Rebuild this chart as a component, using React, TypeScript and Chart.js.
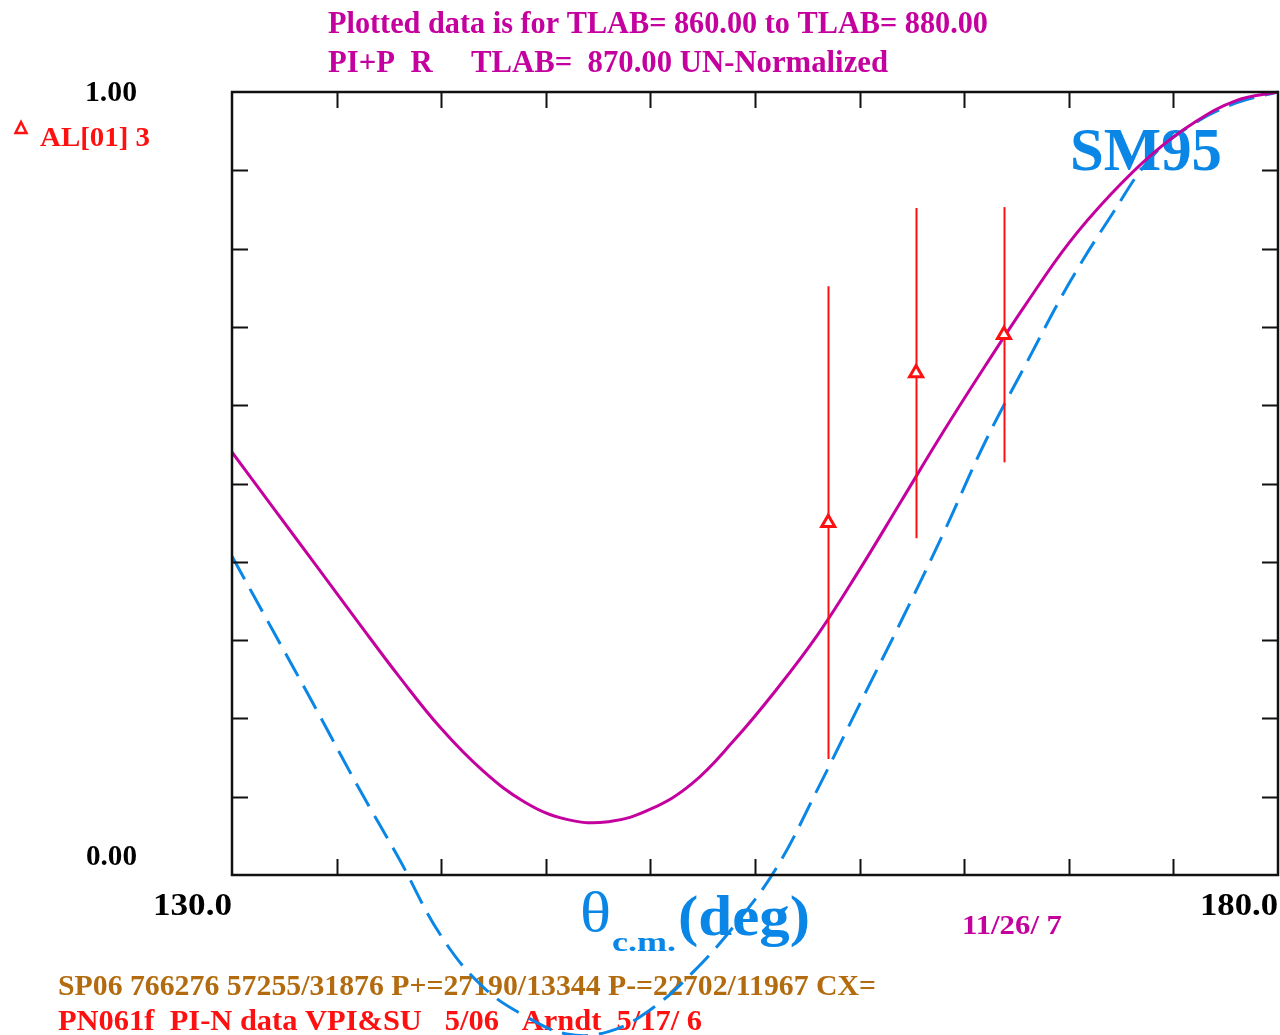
import { useEffect, useRef } from "react";
import { Chart, registerables } from "chart.js";

Chart.register(...registerables);

// Axis ticks (degrees and unnormalized value)
const angleTicks = [130, 135, 140, 145, 150, 155, 160, 165, 170, 175, 180];
const valueTicks = [0, 0.1, 0.2, 0.3, 0.4, 0.5, 0.6, 0.7, 0.8, 0.9, 1.0];
const angleLabels = ["130.0", "180.0"];
const valueLabels = ["0.00", "1.00"];

// Angles at which the two model curves are tabulated
const curveAngles = [
  130, 132, 134, 136, 138, 140, 142, 144, 146, 148, 150, 152, 154, 156, 158,
  160, 162, 164, 166, 168, 170, 172, 174, 176, 178, 180,
];
// Current fit (solid magenta)
const fitValues = [
  0.54, 0.468, 0.396, 0.324, 0.253, 0.187, 0.133, 0.093, 0.071, 0.068, 0.084,
  0.117, 0.172, 0.236, 0.307, 0.39, 0.478, 0.566, 0.65, 0.731, 0.807, 0.869,
  0.921, 0.961, 0.989, 1.0,
];
// SM95 solution (dashed blue)
const sm95Values = [
  0.407, 0.31, 0.213, 0.114, 0.02, -0.078, -0.143, -0.18, -0.203, -0.2,
  -0.172, -0.125, -0.065, 0.008, 0.11, 0.218, 0.325, 0.436, 0.553, 0.655,
  0.755, 0.841, 0.918, 0.96, 0.986, 1.0,
];

// Measured points AL[01] 3
const dataAngles = [158.5, 162.7, 166.9];
const dataValues = [0.45, 0.641, 0.69];
const dataErrors = [0.302, 0.211, 0.163];

// Annotation text
const titleLine1 = "Plotted data is for TLAB= 860.00 to TLAB= 880.00";
const titleLine2 = "PI+P  R     TLAB=  870.00 UN-Normalized";
const legendLabel = "AL[01] 3";
const modelLabel = "SM95";
const axisSymbol = "θ";
const axisSub = "c.m.";
const axisUnit = "(deg)";
const dateLabel = "11/26/ 7";
const footerLine1 = "SP06 766276 57255/31876 P+=27190/13344 P-=22702/11967 CX=";
const footerLine2 = "PN061f  PI-N data VPI&SU   5/06   Arndt  5/17/ 6";

const MAGENTA = "#C4009E";
const BLUE = "#0A87E6";
const RED = "#FF1010";
const BROWN = "#B36B0F";
const SERIF = "'Liberation Serif', 'DejaVu Serif', serif";

function fitText(
  ctx: CanvasRenderingContext2D,
  text: string,
  left: number,
  baseline: number,
  size: number,
  width: number,
  color: string,
  weight = "bold"
) {
  ctx.save();
  ctx.font = `${weight} ${size}px ${SERIF}`;
  const w = ctx.measureText(text).width;
  ctx.translate(left, baseline);
  ctx.scale(width / w, 1);
  ctx.fillStyle = color;
  ctx.textAlign = "left";
  ctx.textBaseline = "alphabetic";
  ctx.fillText(text, 0, 0);
  ctx.restore();
}

const annotations = {
  id: "annotations",
  beforeDatasetsDraw(chart: any) {
    const ctx: CanvasRenderingContext2D = chart.ctx;
    const xs = chart.scales.x;
    const ys = chart.scales.y;
    fitText(ctx, titleLine1, 328, 33, 32, 660, MAGENTA);
    fitText(ctx, titleLine2, 328, 72, 32, 560, MAGENTA);

    // value-axis end labels
    const y1 = ys.getPixelForValue(1);
    const y0 = ys.getPixelForValue(0);
    fitText(ctx, valueLabels[1], 85, y1 + 9, 29, 52, "#000");
    fitText(ctx, valueLabels[0], 86, y0 - 10, 29, 51, "#000");
    // angle-axis end labels
    const x0 = xs.getPixelForValue(angleTicks[0]);
    const x1 = xs.getPixelForValue(angleTicks[angleTicks.length - 1]);
    fitText(ctx, angleLabels[0], x0 - 79, 915, 32, 79, "#000");
    fitText(ctx, angleLabels[1], x1 - 78, 915, 32, 78, "#000");

    // legend entry
    ctx.save();
    ctx.strokeStyle = RED;
    ctx.lineWidth = 2.5;
    ctx.beginPath();
    ctx.moveTo(21, 122);
    ctx.lineTo(26.5, 133);
    ctx.lineTo(15.5, 133);
    ctx.closePath();
    ctx.stroke();
    ctx.restore();
    fitText(ctx, legendLabel, 40, 146, 27, 110, RED);

    // model name
    fitText(ctx, modelLabel, 1070, 170, 62, 152, BLUE);

    // axis title
    fitText(ctx, axisSymbol, 580, 931, 56, 31, BLUE, "normal");
    fitText(ctx, axisSub, 612, 951, 27, 64, BLUE, "bold");
    fitText(ctx, axisUnit, 678, 935, 58, 132, BLUE, "bold");

    fitText(ctx, dateLabel, 962, 934, 28, 100, MAGENTA);
    fitText(ctx, footerLine1, 58, 995, 30, 818, BROWN);
    fitText(ctx, footerLine2, 58, 1030, 30, 644, RED);
  },
  beforeDatasetDraw(chart: any, args: any) {
    if (args.index !== 0) return;
    const ctx: CanvasRenderingContext2D = chart.ctx;
    const xs = chart.scales.x;
    const ys = chart.scales.y;
    ctx.save();
    ctx.strokeStyle = RED;
    ctx.lineWidth = 2;
    dataAngles.forEach((a, i) => {
      const px = Math.round(xs.getPixelForValue(a)) + 0.5;
      ctx.beginPath();
      ctx.moveTo(px, ys.getPixelForValue(dataValues[i] + dataErrors[i]));
      ctx.lineTo(px, ys.getPixelForValue(dataValues[i] - dataErrors[i]));
      ctx.stroke();
    });
    ctx.restore();
  },
  afterDatasetsDraw(chart: any) {
    const ctx: CanvasRenderingContext2D = chart.ctx;
    const { left, right, top, bottom } = chart.chartArea;
    const xs = chart.scales.x;
    const ys = chart.scales.y;
    const tick = 16;
    ctx.save();
    ctx.strokeStyle = "#111";
    ctx.lineWidth = 2.5;
    ctx.strokeRect(left, top, right - left, bottom - top);
    ctx.lineWidth = 2;
    ctx.beginPath();
    angleTicks.slice(1, -1).forEach((a) => {
      const px = Math.round(xs.getPixelForValue(a)) + 0.5;
      ctx.moveTo(px, top);
      ctx.lineTo(px, top + tick);
      ctx.moveTo(px, bottom);
      ctx.lineTo(px, bottom - tick);
    });
    valueTicks.slice(1, -1).forEach((v) => {
      const py = Math.round(ys.getPixelForValue(v)) + 0.5;
      ctx.moveTo(left, py);
      ctx.lineTo(left + tick, py);
      ctx.moveTo(right, py);
      ctx.lineTo(right - tick, py);
    });
    ctx.stroke();
    ctx.restore();
  },
};

export default function App() {
  const canvasRef = useRef<HTMLCanvasElement | null>(null);

  useEffect(() => {
    const canvas = canvasRef.current;
    if (!canvas) return;
    const chart = new Chart(canvas, {
      type: "line",
      data: {
        datasets: [
          {
            type: "scatter",
            label: legendLabel,
            data: dataAngles.map((a, i) => ({ x: a, y: dataValues[i] })),
            showLine: false,
            pointStyle: "triangle",
            pointRadius: 7.5,
            pointBorderWidth: 3,
            pointBorderColor: RED,
            pointBackgroundColor: "#fff",
            borderColor: RED,
            backgroundColor: "#fff",
          },
          {
            label: "fit",
            data: curveAngles.map((a, i) => ({ x: a, y: fitValues[i] })),
            borderColor: MAGENTA,
            borderWidth: 3,
            pointRadius: 0,
            tension: 0.4,
            fill: false,
          },
          {
            label: modelLabel,
            data: curveAngles.map((a, i) => ({ x: a, y: sm95Values[i] })),
            borderColor: BLUE,
            borderWidth: 3,
            borderDash: [26, 11],
            pointRadius: 0,
            tension: 0.4,
            capBezierPoints: false,
            clip: false,
            fill: false,
          },
        ],
      },
      options: {
        responsive: false,
        animation: false,
        devicePixelRatio: 1,
        layout: {
          autoPadding: false,
          padding: { left: 232, top: 92, right: 2, bottom: 160 },
        },
        plugins: {
          legend: { display: false },
          tooltip: { enabled: false },
          title: { display: false },
        },
        scales: {
          x: { type: "linear", min: 130, max: 180, display: false },
          y: { type: "linear", min: 0, max: 1, display: false },
        },
      },
      plugins: [annotations],
    } as any);
    return () => chart.destroy();
  }, []);

  return (
    <div
      style={{
        position: "absolute",
        left: 0,
        top: 0,
        width: 1280,
        height: 1035,
        background: "#fff",
      }}
    >
      <canvas ref={canvasRef} width={1280} height={1035} />
    </div>
  );
}
